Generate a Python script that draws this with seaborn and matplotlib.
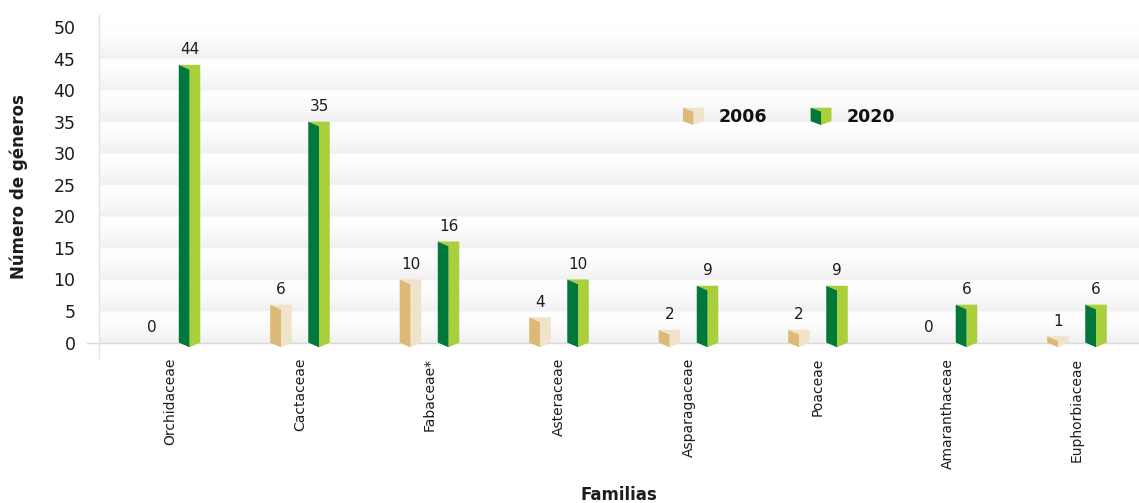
import numpy as np
import pandas as pd
import matplotlib
matplotlib.use("Agg")
import matplotlib.pyplot as plt
from matplotlib.colors import LinearSegmentedColormap
from matplotlib.patches import Polygon, Patch
from matplotlib.legend_handler import HandlerBase
import seaborn as sns

# Genera por familia botánica
familias = ["Orchidaceae", "Cactaceae", "Fabaceae*", "Asteraceae",
            "Asparagaceae", "Poaceae", "Amaranthaceae", "Euphorbiaceae"]
anios = ["2006", "2020"]
generos_2006 = [0, 6, 10, 4, 2, 2, 0, 1]
generos_2020 = [44, 35, 16, 10, 9, 9, 6, 6]
yticks = [0, 5, 10, 15, 20, 25, 30, 35, 40, 45, 50]

# (cara oscura, cara clara) de cada prisma
caras = {"2006": ("#dcb976", "#efe3c9"), "2020": ("#00773b", "#a9cf3a")}

df = pd.DataFrame({
    "Familia": familias * 2,
    "Año": [anios[0]] * len(familias) + [anios[1]] * len(familias),
    "Géneros": generos_2006 + generos_2020,
})

sns.set_theme(style="white")
plt.rcParams["font.family"] = ["DejaVu Sans"]
texto = "#1c1c1c"

fig = plt.figure(figsize=(11.39, 5.03), dpi=100)
ax = fig.add_axes([99 / 1139, 145 / 503, 1040 / 1139, 343 / 503])

sns.barplot(data=df, x="Familia", y="Géneros", hue="Año", order=familias,
            hue_order=anios, palette={a: caras[a][1] for a in anios},
            width=0.588, gap=0.435, errorbar=None, legend=False, ax=ax)

ax.set_xlim(-0.552, 7.479)
ax.set_ylim(-2.45, 51.9)

# Franjas horizontales con degradado suave cada 5 unidades
ys = np.linspace(0, 50, 2000)
banda = (1 - (ys % 5) / 5) ** 1.6
cmap = LinearSegmentedColormap.from_list("franja", ["#ffffff", "#f0f0f0"])
ax.imshow(banda[:, None], extent=[-0.552, 7.479, 0, 50], origin="lower",
          aspect="auto", cmap=cmap, vmin=0, vmax=1, zorder=0,
          interpolation="bilinear")

# Barras como prismas con punta inferior en V
dy = 0.75
for cont, anio in zip(ax.containers, anios):
    oscuro, claro = caras[anio]
    for rect in cont:
        rect.set_visible(False)
        h = rect.get_height()
        if h <= 0:
            continue
        x0 = rect.get_x()
        w = rect.get_width()
        xm, x1 = x0 + w / 2, x0 + w
        ax.add_patch(Polygon([(x0, h), (x1, h), (x1, 0), (xm, -dy), (xm, h - dy)],
                             closed=True, fc=claro, ec="none", zorder=3))
        ax.add_patch(Polygon([(x0, h), (xm, h - dy), (xm, -dy), (x0, 0)],
                             closed=True, fc=oscuro, ec="none", zorder=4))
    ax.bar_label(cont, padding=5.5, fontsize=11, color=texto)

# Ejes
for s in ["top", "right", "bottom"]:
    ax.spines[s].set_visible(False)
ax.spines["left"].set_color("#e3e3e3")
ax.spines["left"].set_linewidth(1)
ax.axhline(0, xmin=-0.0115, xmax=1, color="#d9d9d9", lw=1, clip_on=False, zorder=2)

ax.set_yticks(yticks)
ax.set_yticklabels([str(v) for v in yticks])
ax.tick_params(axis="y", length=0, pad=17, labelsize=12.5, labelcolor=texto)
ax.tick_params(axis="x", length=0, pad=0, labelsize=10, labelcolor=texto)
for lbl in ax.get_xticklabels():
    lbl.set_rotation(90)
    lbl.set_va("top")
    lbl.set_ha("center")

ax.set_xlabel("Familias", fontsize=12, fontweight="bold", color=texto)
ax.xaxis.set_label_coords(0.5, -0.372)
ax.set_ylabel("Número de géneros", fontsize=12, fontweight="bold", color=texto)
ax.yaxis.set_label_coords(-0.068, 0.5)


class PrismaHandler(HandlerBase):
    def __init__(self, oscuro, claro):
        super().__init__()
        self.oscuro, self.claro = oscuro, claro

    def create_artists(self, legend, orig_handle, xdescent, ydescent,
                       width, height, fontsize, trans):
        x0, y0 = -xdescent, -ydescent
        xm, x1 = x0 + width / 2, x0 + width
        d = height * 0.22
        top, base = y0 + height, y0 + d
        clara = Polygon([(x0, top), (x1, top), (x1, base), (xm, y0), (xm, top - d)],
                        closed=True, fc=self.claro, ec="none", transform=trans)
        oscura = Polygon([(x0, top), (xm, top - d), (xm, y0), (x0, base)],
                         closed=True, fc=self.oscuro, ec="none", transform=trans)
        return [clara, oscura]


handles = [Patch(label=a) for a in anios]
hmap = {h: PrismaHandler(*caras[a]) for h, a in zip(handles, anios)}
leg = ax.legend(handles=handles, labels=anios, handler_map=hmap, ncol=2,
                frameon=False, loc="center left", bbox_to_anchor=(0.5615, 0.7026),
                borderpad=0, borderaxespad=0, handlelength=1.2, handleheight=1.15,
                handletextpad=0.86, columnspacing=2.5,
                prop={"size": 12.5, "weight": "bold"})
for t in leg.get_texts():
    t.set_color("#111111")

fig.savefig("out.png", dpi=100, facecolor="white")
